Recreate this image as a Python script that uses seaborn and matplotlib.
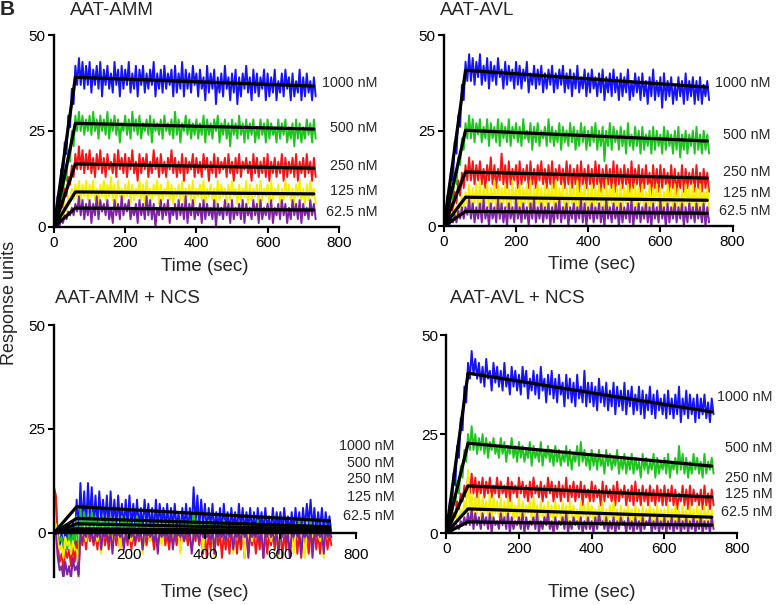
import numpy as np
import pandas as pd
import matplotlib
matplotlib.use("Agg")
import matplotlib.pyplot as plt
import seaborn as sns

# concentrations and colours (same order in every panel)
conc_labels = ["1000 nM", "500 nM", "250 nM", "125 nM", "62.5 nM"]
colors = ["#1414f5", "#1fc41f", "#f21616", "#f5f000", "#7e22a6"]

# traces read as upper (hi, at 0,10,20.. s) and lower (lo, at 5,15,25.. s)
# edges of the noisy signal
step = 10
fit_time = [0, 60, 730]

# ---- AAT-AMM ----
amm_1000_hi = [0, 8, 15, 22, 29, 36, 42, 44, 43, 42,
               43, 41, 42, 43, 41, 42, 40, 43, 41, 42,
               41, 43, 40, 42, 41, 42, 40, 41, 43, 40,
               41, 42, 40, 41, 42, 40, 43, 41, 40, 42,
               40, 41, 39, 42, 40, 41, 39, 40, 42, 39,
               40, 41, 39, 40, 42, 39, 41, 40, 39, 41,
               40, 39, 41, 38, 40, 41, 39, 40, 38, 41,
               39, 40, 38, 39]
amm_1000_lo = [0, 5, 12, 19, 26, 32, 37, 37, 36, 37,
               35, 37, 36, 34, 37, 36, 35, 37, 34, 36,
               37, 35, 36, 34, 37, 35, 36, 37, 34, 36,
               35, 36, 37, 34, 35, 36, 34, 36, 35, 37,
               34, 36, 33, 35, 36, 32, 35, 34, 36, 33,
               35, 32, 34, 36, 35, 33, 35, 34, 36, 33,
               34, 35, 33, 35, 34, 36, 33, 34, 35, 33,
               34, 35, 33, 34]
amm_500_hi = [0, 5, 10, 15, 20, 25, 29, 30, 29, 28,
              29, 30, 28, 29, 28, 30, 28, 29, 28, 27,
              29, 28, 30, 28, 29, 27, 28, 29, 28, 27,
              28, 29, 27, 28, 30, 28, 27, 29, 28, 27,
              28, 27, 29, 28, 27, 28, 29, 27, 28, 27,
              28, 27, 29, 27, 28, 27, 28, 26, 28, 27,
              28, 27, 26, 28, 27, 28, 26, 27, 28, 27,
              26, 28, 27, 28]
amm_500_lo = [0, 3, 8, 12, 17, 21, 25, 25, 24, 25,
              24, 25, 23, 25, 24, 23, 25, 24, 22, 25,
              24, 23, 25, 24, 23, 25, 24, 22, 25, 24,
              23, 25, 24, 23, 24, 22, 25, 24, 23, 24,
              23, 24, 22, 24, 23, 25, 22, 24, 23, 21,
              24, 23, 24, 22, 23, 24, 22, 23, 24, 22,
              23, 24, 22, 23, 24, 22, 23, 21, 23, 22,
              23, 24, 22, 23]
amm_250_hi = [0, 4, 7, 10, 13, 16, 19, 21, 20, 19,
              20, 18, 19, 20, 18, 19, 17, 19, 20, 18,
              19, 18, 20, 17, 19, 18, 19, 17, 20, 18,
              19, 17, 18, 20, 18, 17, 19, 18, 17, 19,
              18, 17, 19, 18, 17, 19, 18, 17, 18, 19,
              17, 18, 19, 17, 18, 17, 19, 18, 17, 18,
              19, 17, 18, 17, 19, 18, 17, 18, 19, 17,
              18, 19, 17, 18]
amm_250_lo = [0, 2, 5, 8, 11, 13, 15, 15, 14, 15,
              14, 13, 15, 14, 13, 15, 14, 13, 15, 14,
              13, 15, 14, 12, 14, 15, 13, 14, 15, 13,
              14, 13, 15, 14, 13, 14, 12, 14, 15, 13,
              14, 13, 15, 12, 14, 13, 14, 15, 13, 14,
              12, 14, 13, 15, 14, 12, 14, 13, 14, 13,
              12, 14, 13, 14, 12, 13, 14, 13, 12, 14,
              13, 14, 12, 13]
amm_125_hi = [0, 2, 4, 6, 8, 10, 11, 12, 11, 12,
              11, 12, 10, 11, 12, 11, 13, 11, 12, 10,
              11, 12, 11, 10, 12, 11, 12, 10, 11, 12,
              11, 10, 12, 11, 10, 11, 12, 10, 11, 12,
              10, 11, 12, 10, 11, 10, 12, 11, 10, 11,
              12, 10, 11, 10, 12, 11, 10, 11, 12, 10,
              11, 12, 10, 11, 10, 12, 11, 10, 11, 12,
              10, 11, 12, 10]
amm_125_lo = [0, 1, 2, 4, 6, 7, 8, 7, 8, 7,
              8, 7, 6, 8, 7, 8, 7, 6, 8, 7,
              8, 6, 7, 8, 7, 6, 8, 7, 8, 6,
              7, 8, 7, 6, 8, 7, 6, 8, 7, 6,
              8, 7, 6, 8, 7, 6, 7, 8, 6, 7,
              8, 6, 7, 8, 6, 7, 8, 6, 7, 8,
              6, 7, 8, 6, 7, 8, 7, 6, 8, 7,
              6, 7, 8, 6]
amm_62_hi = [0, 1, 2, 3, 4, 5, 6, 8, 7, 6,
             7, 6, 8, 7, 6, 7, 5, 7, 6, 8,
             6, 7, 5, 6, 7, 6, 8, 7, 6, 5,
             7, 6, 7, 5, 6, 7, 6, 8, 6, 7,
             5, 6, 7, 6, 5, 7, 6, 5, 7, 6,
             7, 5, 6, 7, 6, 5, 7, 6, 7, 5,
             6, 7, 5, 6, 7, 6, 5, 7, 6, 7,
             6, 5, 7, 6]
amm_62_lo = [0, 0, 1, 2, 3, 3, 4, 3, 2, 3,
             1, 3, 2, 4, 3, 2, 1, 3, 2, 3,
             4, 2, 3, 1, 3, 2, 3, 2, 0, 3,
             2, 3, 1, 3, 2, 3, 2, 1, 3, 2,
             3, 1, 2, 3, 2, 0, 3, 2, 3, 1,
             2, 3, 2, 1, 3, 2, 3, 1, 2, 3,
             2, 1, 3, 2, 3, 1, 2, 3, 2, 1,
             3, 2, 3, 2]
amm_fit_peak = [39.0, 27.0, 16.4, 9.1, 4.9]
amm_fit_end = [36.7, 25.5, 15.3, 8.6, 4.4]

# ---- AAT-AVL ----
avl_1000_hi = [0, 8, 15, 22, 29, 37, 43, 45, 44, 43,
               45, 42, 44, 43, 42, 44, 41, 43, 42, 41,
               43, 42, 41, 43, 40, 42, 41, 42, 40, 41,
               42, 40, 41, 42, 40, 41, 40, 42, 39, 41,
               40, 41, 39, 40, 41, 39, 40, 41, 39, 40,
               39, 41, 38, 40, 39, 40, 38, 39, 41, 38,
               39, 40, 38, 39, 37, 39, 38, 40, 38, 39,
               38, 39, 37, 38]
avl_1000_lo = [0, 5, 12, 19, 26, 33, 38, 38, 37, 39,
               37, 38, 36, 38, 37, 39, 36, 37, 38, 36,
               37, 36, 38, 35, 37, 36, 37, 35, 36, 37,
               35, 36, 37, 35, 36, 34, 36, 35, 36, 34,
               35, 36, 34, 35, 33, 35, 34, 35, 33, 34,
               35, 33, 34, 35, 33, 34, 32, 34, 33, 34,
               31, 33, 34, 32, 33, 34, 32, 33, 34, 32,
               33, 32, 34, 33]
avl_500_hi = [0, 5, 9, 14, 18, 23, 27, 29, 28, 27,
              28, 26, 28, 27, 26, 28, 27, 26, 28, 26,
              27, 26, 28, 25, 27, 26, 27, 25, 26, 28,
              26, 25, 27, 26, 25, 27, 26, 25, 27, 26,
              25, 26, 27, 25, 26, 25, 27, 26, 25, 26,
              25, 27, 24, 26, 25, 26, 24, 25, 26, 25,
              24, 26, 25, 24, 25, 26, 24, 25, 24, 25,
              26, 24, 25, 24]
avl_500_lo = [0, 3, 7, 11, 16, 20, 23, 23, 22, 24,
              22, 23, 21, 23, 22, 21, 23, 22, 21, 23,
              22, 21, 23, 22, 20, 22, 21, 23, 21, 22,
              21, 22, 20, 22, 21, 22, 20, 21, 22, 20,
              21, 22, 20, 21, 17, 21, 20, 22, 20, 21,
              19, 21, 20, 21, 19, 20, 21, 19, 20, 21,
              19, 20, 21, 19, 20, 18, 20, 19, 21, 19,
              20, 19, 20, 19]
avl_250_hi = [0, 3, 6, 9, 12, 14, 16, 18, 17, 16,
              17, 15, 16, 18, 16, 15, 19, 16, 17, 15,
              16, 17, 15, 16, 17, 15, 16, 17, 15, 16,
              17, 15, 16, 15, 17, 16, 15, 16, 17, 15,
              16, 15, 17, 16, 15, 16, 15, 17, 16, 15,
              16, 15, 17, 15, 16, 15, 16, 14, 16, 15,
              16, 15, 14, 16, 15, 14, 16, 15, 14, 15,
              16, 14, 15, 14]
avl_250_lo = [0, 2, 4, 6, 8, 10, 12, 12, 11, 12,
              11, 10, 12, 11, 10, 12, 11, 10, 11, 12,
              10, 11, 12, 10, 11, 10, 12, 11, 10, 11,
              10, 12, 11, 10, 11, 10, 11, 9, 11, 10,
              11, 10, 11, 9, 10, 11, 10, 9, 11, 10,
              11, 9, 10, 11, 9, 10, 11, 8, 10, 9,
              10, 11, 9, 10, 8, 10, 9, 10, 11, 9,
              10, 9, 10, 9]
avl_125_hi = [0, 2, 3, 5, 6, 8, 9, 11, 10, 11,
              12, 10, 11, 10, 12, 11, 10, 11, 10, 12,
              10, 11, 10, 11, 12, 10, 11, 10, 11, 10,
              11, 12, 10, 11, 10, 11, 10, 12, 10, 11,
              10, 11, 10, 11, 10, 12, 10, 11, 10, 11,
              10, 11, 10, 11, 10, 11, 9, 11, 10, 11,
              10, 9, 11, 10, 11, 10, 9, 11, 10, 11,
              10, 11, 9, 10]
avl_125_lo = [0, 1, 2, 3, 4, 5, 6, 5, 6, 5,
              4, 6, 5, 6, 4, 5, 6, 5, 4, 6,
              5, 4, 6, 5, 4, 6, 5, 4, 5, 6,
              4, 5, 6, 4, 5, 6, 4, 5, 6, 4,
              5, 4, 6, 5, 4, 5, 6, 4, 5, 4,
              6, 5, 4, 5, 6, 4, 5, 4, 6, 5,
              4, 5, 6, 4, 5, 4, 5, 6, 4, 5,
              4, 5, 6, 4]
avl_62_hi = [0, 1, 2, 3, 4, 5, 5, 7, 6, 5,
             6, 7, 5, 6, 5, 7, 6, 5, 6, 5,
             7, 5, 6, 5, 6, 7, 5, 6, 5, 6,
             5, 6, 7, 5, 6, 5, 6, 5, 7, 6,
             5, 6, 5, 6, 5, 7, 5, 6, 5, 6,
             5, 6, 7, 5, 6, 5, 6, 5, 6, 5,
             7, 5, 6, 5, 6, 5, 6, 5, 6, 5,
             6, 5, 6, 5]
avl_62_lo = [0, 0, 1, 1, 2, 2, 3, 2, 1, 2,
             1, 2, 0, 2, 1, 2, 1, 0, 2, 1,
             2, 1, 2, 0, 2, 1, 2, 1, 2, 0,
             1, 2, 1, 2, 0, 2, 1, 2, 1, 0,
             2, 1, 2, 1, 0, 2, 1, 2, 0, 1,
             2, 1, 0, 2, 1, 2, 1, 0, 2, 1,
             2, 0, 1, 2, 1, 2, 0, 1, 2, 1,
             2, 1, 0, 1]
avl_fit_peak = [40.8, 25.1, 14.2, 7.6, 3.9]
avl_fit_end = [36.4, 22.3, 12.6, 6.8, 3.4]

# ---- AAT-AMM + NCS ----
ammn_1000_hi = [0, -1, 0, 1, 2, 3, 8, 12, 10, 12,
                11, 9, 10, 8, 9, 10, 8, 9, 7, 8,
                9, 7, 8, 6, 8, 7, 6, 8, 7, 6,
                7, 6, 7, 5, 6, 7, 6, 11, 9, 8,
                7, 6, 7, 5, 6, 7, 5, 6, 5, 7,
                6, 5, 6, 5, 6, 5, 6, 4, 6, 5,
                5, 6, 4, 5, 6, 5, 6, 7, 8, 6,
                5, 6, 5, 4]
ammn_1000_lo = [0, -3, -4, -3, -2, -3, 0, 2, 1, 3,
                2, 1, 3, 2, 1, 2, 1, 2, 1, 2,
                1, 2, 1, 1, 2, 1, 0, 1, 2, 1,
                0, 1, 1, 0, 1, 0, 1, 2, 1, 2,
                0, 1, 0, 1, 0, 1, 0, 1, 0, 1,
                0, 1, 0, 0, 1, 0, 1, 0, 0, 1,
                0, 1, 0, 0, 1, 0, 1, 2, 1, 0,
                1, 0, 1, 0]
ammn_500_hi = [10, 0, -1, -1, 0, 0, 4, 6, 5, 4,
               5, 4, 3, 4, 3, 4, 3, 2, 4, 3,
               3, 2, 4, 3, 2, 3, 2, 3, 2, 3,
               2, 3, 2, 1, 3, 2, 3, 5, 3, 2,
               2, 3, 2, 1, 2, 3, 1, 2, 1, 2,
               1, 2, 1, 2, 3, 1, 2, 1, 2, 1,
               2, 1, 2, 1, 2, 3, 1, 2, 3, 1,
               2, 1, 2, 1]
ammn_500_lo = [8, -2, -3, -4, -3, -2, -10, 0, 1, 0,
               1, 0, 1, 0, 0, 1, 0, 0, 1, 0,
               0, 1, 0, 0, 1, 0, -1, 0, 0, 1,
               0, 0, -1, 0, 0, 1, 0, 1, 0, 0,
               -1, 0, 0, -1, 0, 0, -1, 0, 0, -1,
               0, 0, -1, 0, -1, 0, 0, -1, 0, 0,
               -1, 0, 0, -1, 0, -1, -2, 0, -1, 0,
               0, -1, 0, -1]
ammn_250_hi = [11, -3, -5, -4, -4, -3, -2, 0, 0, 1,
               0, 0, 1, 0, 0, 0, 1, 0, 0, 0,
               1, 0, 0, 0, 1, 0, 0, 0, 0, 1,
               0, 0, 0, 1, 0, 0, 0, 0, 1, 0,
               0, 0, 1, 0, 0, 0, 0, 1, 0, 0,
               0, 1, 0, 0, 0, 0, 1, 0, 0, 0,
               1, 0, 0, 0, 0, 1, 0, 0, 0, 1,
               0, 0, 0, 0]
ammn_250_lo = [9, -7, -9, -6, -8, -7, -10.5, -3, -4, -2,
               -3, -4, -2, -3, -4, -2, -3, -4, -2, -3,
               -4, -3, -2, -4, -3, -2, -4, -3, -2, -3,
               -4, -2, -3, -4, -2, -3, -4, -2, -3, -5,
               -6, -4, -5, -3, -6, -4, -5, -3, -5, -4,
               -6, -5, -3, -5, -4, -6, -5, -3, -4, -5,
               -6, -4, -5, -3, -5, -6, -4, -5, -3, -4,
               -5, -3, -4, -3]
ammn_125_hi = [3, -2, -3, -1, -2, -2, -4, 1, 0, 1,
               0, 1, 0, 0, 1, 0, 0, 1, 0, 0,
               1, 0, 0, 1, 0, 0, 1, 0, 0, 1,
               0, 0, 1, 0, 0, 1, 0, 0, 1, 0,
               0, 1, 0, 0, 1, 0, 0, 1, 0, 0,
               1, 0, 0, 1, 0, 0, 1, 0, 0, 1,
               0, 0, 1, 0, 0, 1, 0, 0, 1, 0,
               0, 1, 0, 0]
ammn_125_lo = [2, -4, -6, -3, -5, -4, -7, -1, -2, -1,
               -1, -2, -5, -1, -1, -2, -1, -4, -1, -1,
               -2, -1, -1, -5, -1, -2, -1, -1, -3, -1,
               -1, -2, -1, -5, -1, -1, -2, -1, -1, -4,
               -1, -2, -6, -1, -1, -2, -1, -5, -1, -1,
               -6, -1, -2, -1, -1, -5, -1, -2, -1, -6,
               -1, -1, -2, -5, -1, -1, -6, -2, -1, -1,
               -2, -6, -1, -1]
ammn_62_hi = [0, -6, -8, -7, -8, -6, -8, 0, 0, 1,
              0, 0, 1, 0, 0, 0, 1, 0, 0, 0,
              1, 0, 0, 0, 1, 0, 0, 0, 1, 0,
              0, 1, 0, 0, 0, 1, 0, 0, 0, 1,
              0, 0, 1, 0, 0, 0, 1, 0, 0, 0,
              1, 0, 0, 0, 1, 0, 0, 1, 0, 0,
              0, 1, 0, 0, 1, 0, 0, 0, 1, 0,
              0, 0, 1, 0]
ammn_62_lo = [0, -9, -11, -10, -11, -9, -10, -2, -1, -1,
              -2, -1, -4, -1, -2, -5, -1, -1, -4, -2,
              -1, -2, -1, -4, -1, -1, -2, -5, -1, -1,
              -2, -4, -1, -1, -2, -1, -5, -1, -2, -1,
              -1, -2, -5, -1, -1, -2, -1, -4, -1, -2,
              -1, -6, -1, -1, -2, -6, -1, -1, -2, -5,
              -1, -2, -6, -1, -1, -5, -1, -2, -6, -1,
              -1, -5, -1, -1]
ammn_fit_peak = [6.3, 3.5, 2.2, 1.0, 0.5]
ammn_fit_end = [2.9, 1.5, 0.9, 0.5, 0.2]

# ---- AAT-AVL + NCS ----
avln_1000_hi = [0, 8, 15, 22, 29, 37, 43, 46, 44, 43,
                42, 44, 41, 43, 42, 41, 43, 40, 42, 41,
                40, 42, 41, 39, 41, 40, 42, 39, 40, 41,
                39, 40, 38, 40, 39, 38, 40, 37, 41, 38,
                38, 37, 39, 37, 38, 36, 38, 37, 36, 38,
                36, 37, 35, 37, 36, 35, 37, 35, 36, 34,
                35, 36, 34, 35, 37, 34, 36, 35, 34, 35,
                34, 35, 33, 34]
avln_1000_lo = [0, 5, 12, 19, 26, 33, 39, 40, 39, 38,
                37, 39, 36, 38, 37, 36, 37, 35, 37, 36,
                35, 37, 34, 36, 35, 34, 36, 33, 35, 34,
                33, 35, 32, 34, 33, 32, 34, 33, 32, 33,
                32, 31, 33, 32, 31, 32, 30, 32, 31, 30,
                32, 30, 31, 30, 29, 31, 30, 29, 31, 30,
                29, 30, 29, 30, 28, 30, 29, 30, 28, 29,
                30, 29, 28, 30]
avln_500_hi = [0, 5, 9, 13, 17, 21, 25, 27, 25, 24,
               25, 24, 23, 24, 22, 24, 23, 22, 24, 22,
               23, 22, 21, 23, 22, 21, 23, 21, 22, 21,
               22, 21, 20, 22, 21, 20, 22, 23, 21, 20,
               21, 20, 21, 19, 21, 20, 19, 21, 19, 20,
               19, 20, 19, 18, 20, 19, 18, 20, 19, 18,
               19, 20, 18, 19, 22, 20, 19, 18, 20, 19,
               18, 20, 18, 19]
avln_500_lo = [0, 3, 7, 10, 14, 18, 21, 21, 20, 21,
               20, 19, 21, 20, 19, 20, 18, 20, 19, 18,
               19, 18, 19, 17, 19, 18, 17, 19, 18, 17,
               18, 17, 18, 17, 16, 18, 17, 18, 17, 16,
               17, 16, 17, 15, 17, 16, 17, 15, 16, 15,
               16, 15, 16, 14, 16, 15, 16, 14, 15, 16,
               15, 14, 16, 15, 16, 15, 14, 15, 16, 15,
               14, 15, 16, 15]
avln_250_hi = [0, 3, 5, 8, 10, 12, 14, 15, 14, 13,
               14, 13, 14, 12, 14, 13, 12, 14, 13, 12,
               14, 13, 12, 13, 14, 12, 13, 12, 14, 13,
               12, 13, 12, 14, 12, 13, 12, 13, 12, 11,
               13, 12, 11, 13, 12, 11, 12, 13, 11, 12,
               11, 12, 13, 11, 12, 11, 12, 11, 12, 11,
               12, 11, 12, 11, 10, 12, 11, 12, 11, 10,
               11, 12, 10, 11]
avln_250_lo = [0, 2, 4, 6, 8, 9, 10, 10, 9, 10,
               9, 10, 9, 10, 9, 10, 9, 8, 10, 9,
               10, 9, 8, 9, 10, 9, 8, 9, 10, 8,
               9, 8, 9, 8, 9, 8, 9, 7, 9, 8,
               8, 9, 7, 8, 9, 8, 7, 8, 9, 7,
               8, 7, 8, 7, 8, 7, 8, 7, 8, 7,
               7, 8, 7, 6, 8, 7, 6, 7, 8, 7,
               6, 7, 6, 7]
avln_125_hi = [0, 2, 3, 5, 6, 8, 16, 10, 9, 10,
               9, 8, 10, 9, 8, 9, 8, 9, 8, 7,
               9, 8, 7, 8, 9, 7, 8, 7, 8, 7,
               8, 7, 8, 7, 8, 7, 6, 8, 7, 8,
               7, 6, 7, 8, 6, 7, 8, 6, 7, 6,
               7, 6, 7, 6, 7, 6, 7, 6, 7, 6,
               6, 7, 6, 7, 6, 7, 6, 7, 6, 7,
               6, 7, 6, 6]
avln_125_lo = [0, 1, 2, 3, 4, 5, 5, 4, 5, 4,
               5, 4, 3, 5, 4, 3, 4, 5, 3, 4,
               3, 4, 5, 3, 4, 3, 4, 3, 4, 3,
               4, 3, 4, 3, 4, 3, 2, 4, 3, 4,
               3, 4, 3, 2, 3, 4, 3, 2, 3, 4,
               3, 2, 3, 2, 3, 4, 2, 3, 2, 3,
               2, 3, 2, 3, 2, 3, 2, 3, 2, 3,
               2, 3, 2, 2]
avln_62_hi = [0, 1, 2, 2, 3, 4, 5, 6, 5, 4,
              5, 4, 5, 4, 3, 5, 4, 5, 4, 3,
              4, 5, 4, 3, 4, 5, 3, 4, 5, 3,
              4, 3, 4, 5, 3, 4, 3, 4, 3, 4,
              3, 4, 5, 3, 4, 3, 4, 3, 4, 3,
              4, 3, 4, 3, 4, 3, 4, 3, 4, 3,
              4, 3, 4, 3, 4, 3, 4, 3, 4, 3,
              4, 3, 3, 4]
avln_62_lo = [0, 0, 1, 1, 2, 2, 2, 1, 2, 1,
              2, 1, 0, 2, 1, 2, 1, 0, 1, 2,
              1, 0, 1, 2, 1, 0, 1, 2, 1, 0,
              1, 2, 1, 0, 1, 2, 1, 0, 1, 1,
              0, 1, 2, 1, 0, 1, 0, 1, 2, 0,
              1, 0, 1, 0, 1, 2, 0, 1, 0, 1,
              0, 1, 0, 1, 0, 1, 0, 1, 0, 1,
              0, 1, 0, 1]
avln_fit_peak = [40.4, 22.7, 11.9, 6.1, 2.8]
avln_fit_end = [30.6, 16.9, 9.1, 4.0, 2.0]

# label heights (response units) for the concentration texts
amm_label_y = [37.5, 25.8, 15.9, 9.4, 3.9]
avl_label_y = [37.4, 23.8, 14.1, 8.6, 3.9]
ammn_label_y = [21.0, 16.9, 13.0, 8.7, 4.1]
avln_label_y = [34.3, 21.5, 13.9, 9.8, 5.3]


def trace_frame(hi, lo):
    # zigzag between the upper and lower edges of the noisy signal
    df = pd.concat([
        pd.DataFrame({"t": np.arange(len(hi)) * step, "ru": hi}),
        pd.DataFrame({"t": np.arange(len(lo)) * step + step / 2, "ru": lo}),
    ])
    return df.sort_values("t")


sns.set_style("ticks")
plt.rcParams["font.family"] = ["Liberation Sans", "DejaVu Sans"]

fig = plt.figure(figsize=(7.76, 6.05), dpi=100)

panels = [
    dict(title="AAT-AMM", rect=[0.0696, 0.625, 0.367, 0.317], ylim=(0, 50),
         traces=[(amm_1000_hi, amm_1000_lo), (amm_500_hi, amm_500_lo),
                 (amm_250_hi, amm_250_lo), (amm_125_hi, amm_125_lo),
                 (amm_62_hi, amm_62_lo)],
         peak=amm_fit_peak, end=amm_fit_end, lab_y=amm_label_y, lab_x=908,
         title_xy=(0.090, 0.983), xlab_xy=(0.264, 0.559), zero_x=True, pad=2.5),
    dict(title="AAT-AVL", rect=[0.572, 0.626, 0.372, 0.316], ylim=(0, 50),
         traces=[(avl_1000_hi, avl_1000_lo), (avl_500_hi, avl_500_lo),
                 (avl_250_hi, avl_250_lo), (avl_125_hi, avl_125_lo),
                 (avl_62_hi, avl_62_lo)],
         peak=avl_fit_peak, end=avl_fit_end, lab_y=avl_label_y, lab_x=906,
         title_xy=(0.567, 0.983), xlab_xy=(0.763, 0.562), zero_x=True, pad=2.5),
    dict(title="AAT-AMM + NCS", rect=[0.0696, 0.0463, 0.389, 0.4165], ylim=(-10.6, 50),
         traces=[(ammn_1000_hi, ammn_1000_lo), (ammn_500_hi, ammn_500_lo),
                 (ammn_250_hi, ammn_250_lo), (ammn_125_hi, ammn_125_lo),
                 (ammn_62_hi, ammn_62_lo)],
         peak=ammn_fit_peak, end=ammn_fit_end, lab_y=ammn_label_y, lab_x=903,
         title_xy=(0.071, 0.507), xlab_xy=(0.264, 0.021), zero_x=False, pad=7),
    dict(title="AAT-AVL + NCS", rect=[0.575, 0.119, 0.375, 0.327], ylim=(0, 50),
         traces=[(avln_1000_hi, avln_1000_lo), (avln_500_hi, avln_500_lo),
                 (avln_250_hi, avln_250_lo), (avln_125_hi, avln_125_lo),
                 (avln_62_hi, avln_62_lo)],
         peak=avln_fit_peak, end=avln_fit_end, lab_y=avln_label_y, lab_x=898,
         title_xy=(0.580, 0.507), xlab_xy=(0.763, 0.020), zero_x=True, pad=2.5),
]

for p in panels:
    ax = fig.add_axes(p["rect"])
    for (hi, lo), col in zip(p["traces"], colors):
        df = trace_frame(hi, lo)
        sns.lineplot(data=df, x="t", y="ru", color=col, linewidth=1.4, ax=ax,
                     estimator=None, sort=False)
    for pk, en in zip(p["peak"], p["end"]):
        sns.lineplot(x=fit_time, y=[0, pk, en], color="black", linewidth=2.3,
                     ax=ax, estimator=None, sort=False)
    for lab, ly in zip(conc_labels, p["lab_y"]):
        ax.text(p["lab_x"], ly, lab, ha="right", va="center", fontsize=10.3,
                clip_on=False)

    ax.set_xlim(0, 800)
    ax.set_ylim(*p["ylim"])
    ax.set_yticks([0, 25, 50])
    ax.set_xticks([0, 200, 400, 600, 800])
    if not p["zero_x"]:
        # x axis crosses at zero, tick labels sit over the negative traces
        ax.spines["bottom"].set_position(("data", 0))
        ax.set_xticklabels(["", "200", "400", "600", "800"])
        ax.xaxis.set_zorder(3)
    sns.despine(ax=ax)
    for s in ["left", "bottom"]:
        ax.spines[s].set_linewidth(1.7)
        ax.spines[s].set_color("black")
    ax.tick_params(axis="both", direction="out", length=4, width=1.5,
                   labelsize=11, colors="black")
    ax.tick_params(axis="x", pad=p["pad"])
    ax.tick_params(axis="y", pad=2)
    ax.set_xlabel("")
    ax.set_ylabel("")
    ax.patch.set_alpha(0)

    fig.text(p["title_xy"][0], p["title_xy"][1], p["title"], fontsize=13.5,
             ha="left", va="center")
    fig.text(p["xlab_xy"][0], p["xlab_xy"][1], "Time (sec)", fontsize=13.5,
             ha="center", va="center")

fig.text(0.012, 0.5, "Response units", rotation=90, fontsize=13,
         ha="center", va="center")
fig.text(0.0, 0.975, "B", fontsize=15, fontweight="bold", ha="left",
         va="baseline")

fig.savefig("out.png", dpi=100)
